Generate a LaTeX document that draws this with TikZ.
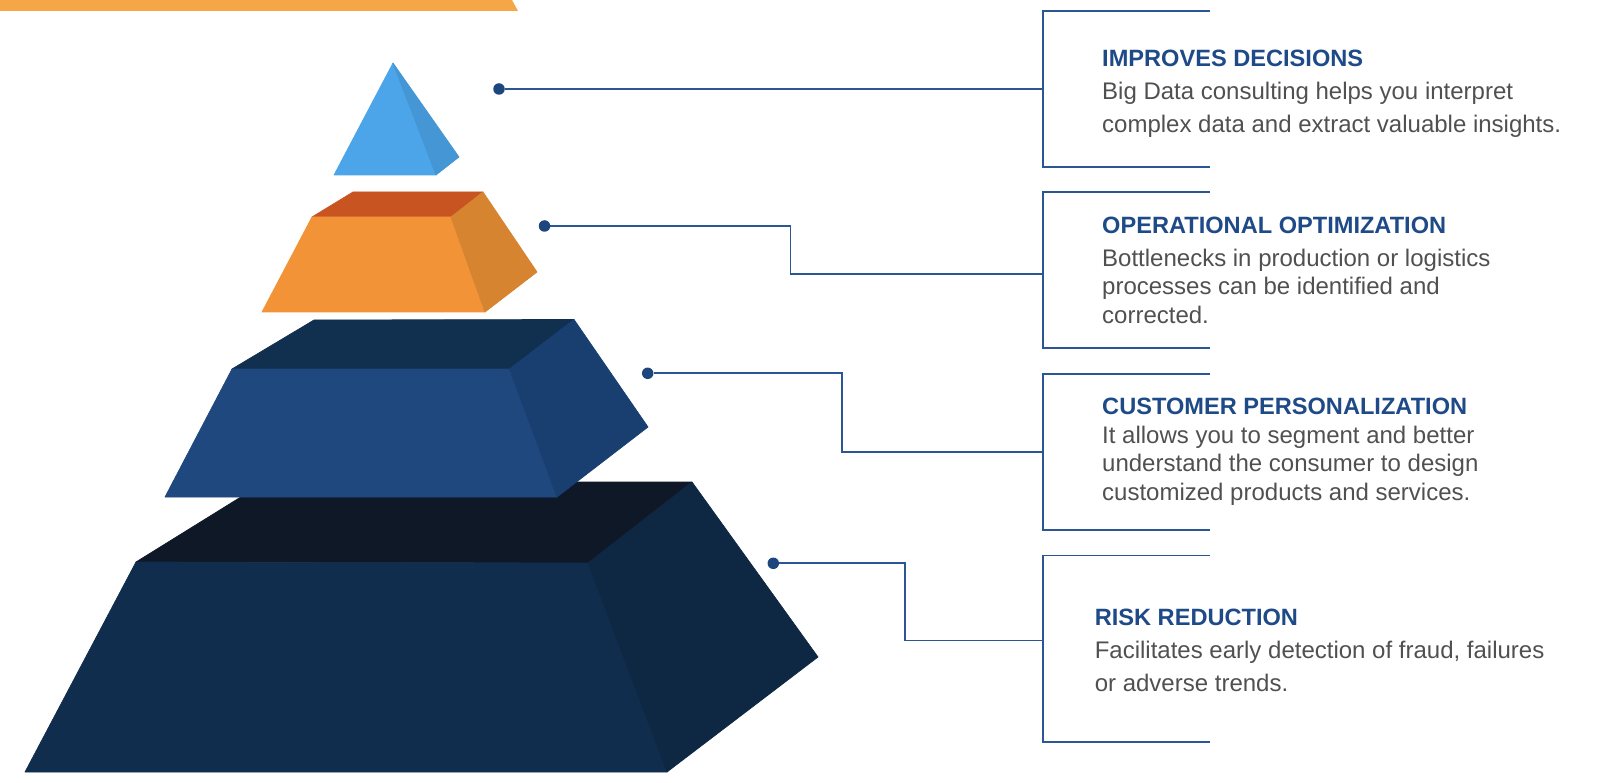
\documentclass[tikz,border=0pt]{standalone}
\usepackage{fontspec}
\setmainfont{Liberation Sans}
\definecolor{barorange}{HTML}{F5A646}
\definecolor{tetL}{HTML}{4BA5E8}
\definecolor{tetR}{HTML}{4496D4}
\definecolor{orTop}{HTML}{C85422}
\definecolor{orFront}{HTML}{F19336}
\definecolor{orRight}{HTML}{D6842F}
\definecolor{mbTop}{HTML}{112F4F}
\definecolor{mbFront}{HTML}{1F487E}
\definecolor{mbRight}{HTML}{183F70}
\definecolor{dkTop}{HTML}{0F1826}
\definecolor{dkFront}{HTML}{112D4D}
\definecolor{dkRight}{HTML}{0E2743}
\definecolor{lineblue}{HTML}{2A5693}
\definecolor{dotblue}{HTML}{1D457E}
\definecolor{titleblue}{HTML}{1E4A87}
\definecolor{bodygray}{HTML}{505050}
\tikzset{
  face/.style={fill=#1, draw=#1, line width=0.7pt, line join=round},
  conn/.style={draw=lineblue, line width=1.7pt},
  dotnode/.style={circle, fill=dotblue, inner sep=0pt, minimum size=11.5pt},
  titletext/.style={anchor=base west, inner sep=0pt, text=titleblue, font=\bfseries\fontsize{23.6}{28}\selectfont},
  bodytext/.style={anchor=base west, inner sep=0pt, text=bodygray, font=\fontsize{24}{28}\selectfont},
}
\begin{document}
\begin{tikzpicture}[x=1pt,y=-1pt]
\useasboundingbox (0,0) rectangle (1600,783);
% top bar
\fill[barorange] (0,0) -- (512,0) -- (518,11) -- (0,11) -- cycle;
% bottom dark frustum
\path[face=dkTop] (265,482) -- (692,482) -- (588,563) -- (136,562) -- cycle;
\path[face=dkFront] (136,562) -- (588,563) -- (667,772) -- (25,772) -- cycle;
\path[face=dkRight] (588,563) -- (692,482) -- (818,657) -- (667,772) -- cycle;
% middle blue frustum
\path[face=mbTop] (314,320) -- (574,319.5) -- (509.5,369) -- (232,369) -- cycle;
\path[face=mbFront] (232,369) -- (509.5,369) -- (557,497) -- (165,497) -- cycle;
\path[face=mbRight] (509.5,369) -- (574,319.5) -- (648,427) -- (557,497) -- cycle;
% orange frustum
\path[face=orTop] (353,192) -- (483,192) -- (451,217) -- (312,217) -- cycle;
\path[face=orFront] (312,217) -- (451,217) -- (485,312) -- (262,312) -- cycle;
\path[face=orRight] (451,217) -- (483,192) -- (537,272) -- (485,312) -- cycle;
% blue tetrahedron
\path[face=tetL] (393,63) -- (436,175) -- (334,175) -- cycle;
\path[face=tetR] (393,63) -- (459,157) -- (436,175) -- cycle;

% brackets
\draw[conn] (1210,11) -- (1043,11) -- (1043,167) -- (1210,167);
\draw[conn] (1210,192) -- (1043,192) -- (1043,348) -- (1210,348);
\draw[conn] (1210,374) -- (1043,374) -- (1043,530) -- (1210,530);
\draw[conn] (1210,555.5) -- (1043,555.5) -- (1043,742) -- (1210,742);

% dots and connectors
\node[dotnode] (d1) at (499,89) {};
\node[dotnode] (d2) at (544.5,226) {};
\node[dotnode] (d3) at (647.7,373.3) {};
\node[dotnode] (d4) at (773.3,563.3) {};
\coordinate (b1) at (1043,89);
\coordinate (b2) at (1043,274);
\coordinate (b3) at (1043,451.7);
\coordinate (b4) at (1043,640.5);
\coordinate (e2) at (790.6,274);
\coordinate (e3) at (841.7,451.7);
\coordinate (e4) at (905,640.5);
\draw[conn] (d1) -- (b1);
\draw[conn] (d2) -| (e2) -- (b2);
\draw[conn] (d3) -| (e3) -- (b3);
\draw[conn] (d4) -| (e4) -- (b4);

% texts
\node[titletext] (t1) at (1102,66.5) {IMPROVES DECISIONS};
\node[bodytext] (t1a) at (1102,100) {Big Data consulting helps you interpret};
\node[bodytext] (t1b) at (1102,132.7) {complex data and extract valuable insights.};

\node[titletext] (t2) at (1102,233.3) {OPERATIONAL OPTIMIZATION};
\node[bodytext] (t2a) at (1102,266.7) {Bottlenecks in production or logistics};
\node[bodytext] (t2b) at (1102,295) {processes can be identified and};
\node[bodytext] (t2c) at (1102,323.3) {corrected.};

\node[titletext] (t3) at (1102,414) {CUSTOMER PERSONALIZATION};
\node[bodytext] (t3a) at (1102,443.3) {It allows you to segment and better};
\node[bodytext] (t3b) at (1102,471.7) {understand the consumer to design};
\node[bodytext] (t3c) at (1102,500) {customized products and services.};

\node[titletext] (t4) at (1094.6,625.3) {RISK REDUCTION};
\node[bodytext] (t4a) at (1094.6,658.3) {Facilitates early detection of fraud, failures};
\node[bodytext] (t4b) at (1094.6,691.7) {or adverse trends.};
\end{tikzpicture}
\end{document}
